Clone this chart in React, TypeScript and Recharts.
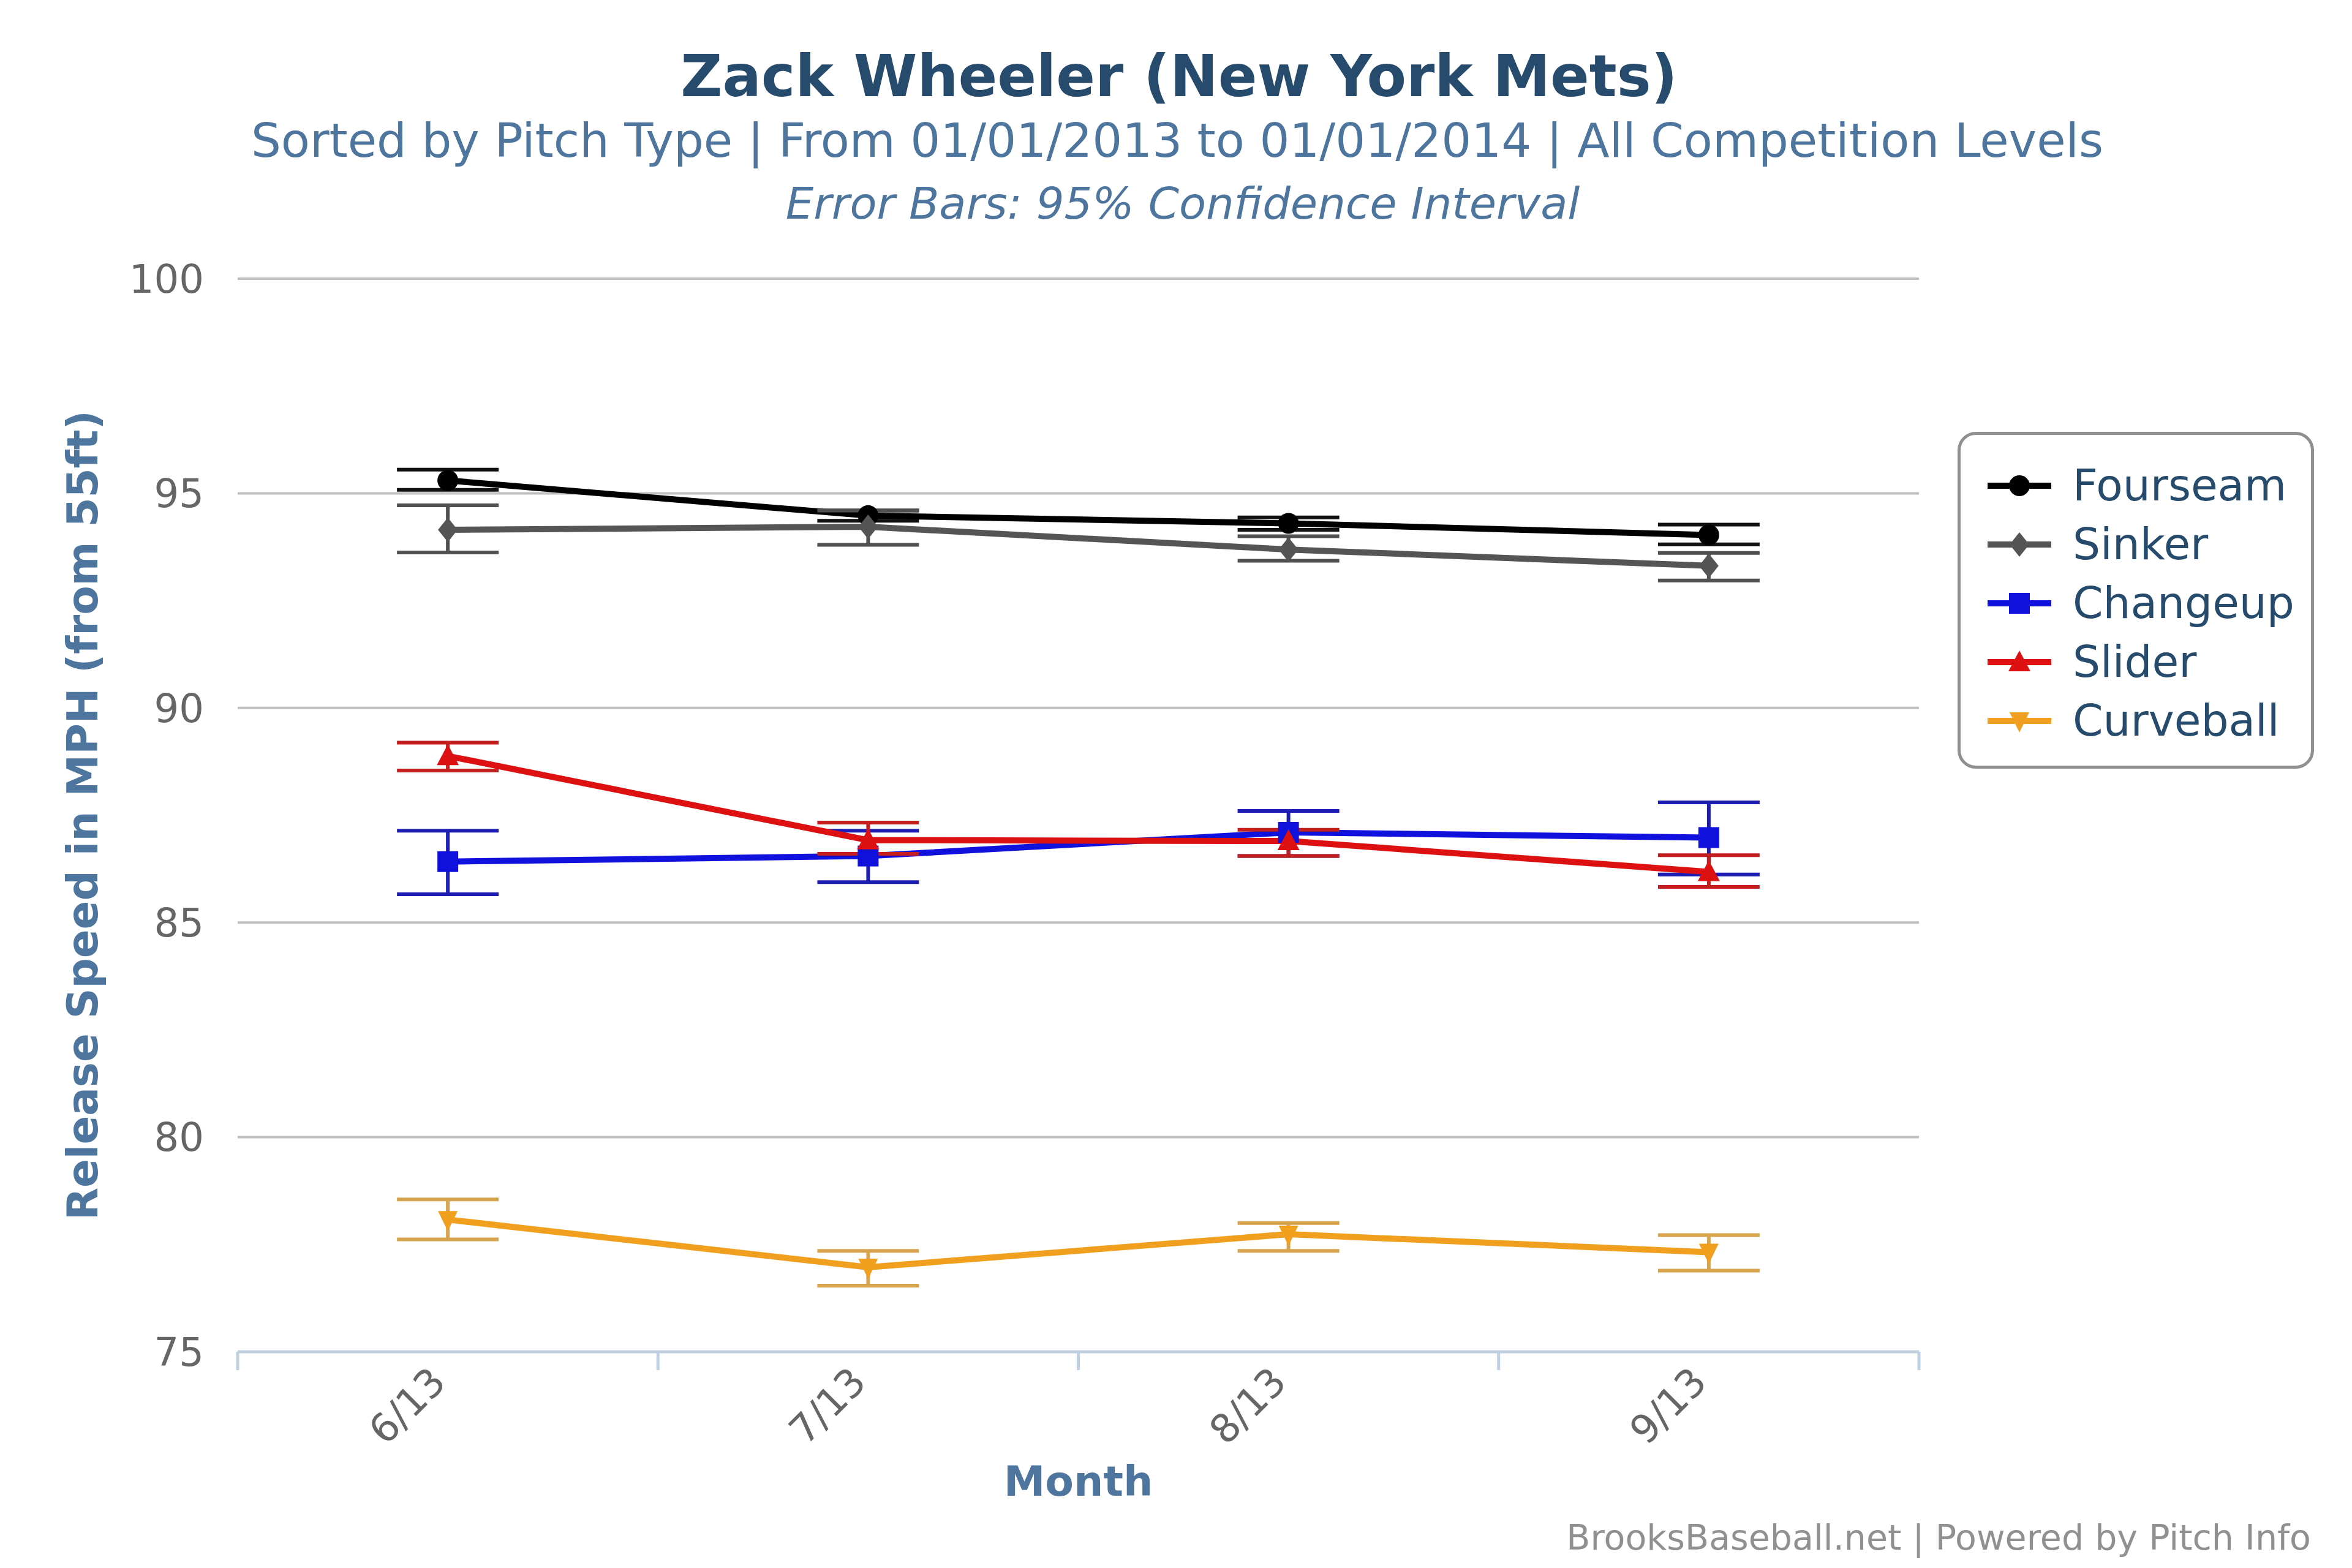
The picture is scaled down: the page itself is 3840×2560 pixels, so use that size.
import React from 'react';
import { LineChart, Line, XAxis, YAxis, CartesianGrid, ErrorBar, Legend } from 'recharts';

const categories = ['6/13', '7/13', '8/13', '9/13'];
const categoryPositions = [0.5, 1.5, 2.5, 3.5];
const xTicks = [0, 0.5, 1, 1.5, 2, 2.5, 3, 3.5, 4];
const yTicks = [75, 80, 85, 90, 95, 100];

const fourseam = [95.3, 94.48, 94.3, 94.03];
const fourseamLow = [95.08, 94.36, 94.15, 93.81];
const fourseamHigh = [95.55, 94.6, 94.44, 94.27];

const sinker = [94.15, 94.22, 93.69, 93.31];
const sinkerLow = [93.62, 93.8, 93.43, 92.97];
const sinkerHigh = [94.72, 94.6, 94.0, 93.61];

const changeup = [86.42, 86.55, 87.1, 86.98];
const changeupLow = [85.66, 85.94, 86.55, 86.12];
const changeupHigh = [87.14, 87.14, 87.6, 87.8];

const slider = [88.88, 86.92, 86.9, 86.18];
const sliderLow = [88.54, 86.6, 86.55, 85.83];
const sliderHigh = [89.19, 87.33, 87.16, 86.57];

const curveball = [78.08, 76.97, 77.74, 77.32];
const curveballLow = [77.62, 76.54, 77.35, 76.89];
const curveballHigh = [78.55, 77.35, 78.0, 77.72];

const FONT = '"DejaVu Sans", Verdana, sans-serif';

const seriesDefs = [
  { key: 'fourseam', name: 'Fourseam', values: fourseam, low: fourseamLow, high: fourseamHigh, color: '#000000', errColor: '#111111', shape: 'circle' },
  { key: 'sinker', name: 'Sinker', values: sinker, low: sinkerLow, high: sinkerHigh, color: '#555555', errColor: '#505050', shape: 'diamond' },
  { key: 'changeup', name: 'Changeup', values: changeup, low: changeupLow, high: changeupHigh, color: '#1111dd', errColor: '#1e1eb4', shape: 'square' },
  { key: 'slider', name: 'Slider', values: slider, low: sliderLow, high: sliderHigh, color: '#dd1111', errColor: '#c41e1e', shape: 'triangle' },
  { key: 'curveball', name: 'Curveball', values: curveball, low: curveballLow, high: curveballHigh, color: '#f0a01e', errColor: '#d8a44e', shape: 'triangle-down' },
];

const data = categories.map((cat, i) => {
  const row: any = { month: cat, x: categoryPositions[i] };
  seriesDefs.forEach((s) => {
    row[s.key] = s.values[i];
    row[s.key + 'Err'] = [s.values[i] - s.low[i], s.high[i] - s.values[i]];
  });
  return row;
});

function Marker({ cx, cy, shape, color }: any) {
  if (cx == null || cy == null) return null;
  switch (shape) {
    case 'circle':
      return <circle cx={cx} cy={cy} r={17} fill={color} />;
    case 'diamond':
      return <path d={`M${cx},${cy - 20}L${cx + 16},${cy}L${cx},${cy + 20}L${cx - 16},${cy}Z`} fill={color} />;
    case 'square':
      return <rect x={cx - 17} y={cy - 17} width={34} height={34} fill={color} />;
    case 'triangle':
      return <path d={`M${cx},${cy - 19}L${cx + 18},${cy + 15}L${cx - 18},${cy + 15}Z`} fill={color} />;
    case 'triangle-down':
      return <path d={`M${cx},${cy + 19}L${cx + 16},${cy - 14}L${cx - 16},${cy - 14}Z`} fill={color} />;
    default:
      return null;
  }
}

function XTick(props: any) {
  const { x, y, payload } = props;
  const v = payload.value;
  const idx = categoryPositions.indexOf(v);
  if (idx < 0) {
    return <line x1={x} y1={y} x2={x} y2={y + 30} stroke="#c0d0e0" strokeWidth={5} />;
  }
  const ay = y + 53;
  return (
    <text
      x={x}
      y={ay}
      transform={`rotate(-45, ${x}, ${ay})`}
      textAnchor="end"
      fill="#666666"
      fontSize={64}
      fontFamily={FONT}
    >
      {categories[idx]}
    </text>
  );
}

function renderLegend() {
  return (
    <div
      style={{
        boxSizing: 'border-box',
        width: 582,
        height: 550,
        border: '5px solid #909090',
        borderRadius: 30,
        background: '#ffffff',
        paddingTop: 35,
        fontFamily: FONT,
      }}
    >
      {seriesDefs.map((s) => (
        <div key={s.key} style={{ display: 'flex', alignItems: 'center', height: 96 }}>
          <svg width={104} height={48} style={{ marginLeft: 44, display: 'block' }}>
            <line x1={0} y1={24} x2={104} y2={24} stroke={s.color} strokeWidth={10} />
            <Marker cx={52} cy={24} shape={s.shape} color={s.color} />
          </svg>
          <span style={{ marginLeft: 35, fontSize: 71, color: '#274b6d', lineHeight: '96px', whiteSpace: 'nowrap' }}>
            {s.name}
          </span>
        </div>
      ))}
    </div>
  );
}

export default function App() {
  return (
    <div style={{ position: 'absolute', left: 0, top: 0, width: 3840, height: 2560, background: '#ffffff', fontFamily: FONT }}>
      <LineChart
        width={3840}
        height={2560}
        data={data}
        margin={{ top: 455, right: 707, bottom: 0, left: 0 }}
        style={{ fontFamily: FONT }}
      >
        <text x={1925} y={157} textAnchor="middle" fill="#274b6d" fontSize={94} fontWeight="bold" fontFamily={FONT}>
          Zack Wheeler (New York Mets)
        </text>
        <text x={1922} y={256} textAnchor="middle" fill="#4d759e" fontSize={77} fontFamily={FONT}>
          Sorted by Pitch Type | From 01/01/2013 to 01/01/2014 | All Competition Levels
        </text>
        <text x={1931} y={357} textAnchor="middle" fill="#4d759e" fontSize={72} fontStyle="italic" fontFamily={FONT}>
          Error Bars: 95% Confidence Interval
        </text>
        <text x={3773} y={2530} textAnchor="end" fill="#909090" fontSize={57} fontFamily={FONT}>
          BrooksBaseball.net | Powered by Pitch Info
        </text>
        <CartesianGrid vertical={false} stroke="#c0c0c0" strokeWidth={4} />
        <XAxis
          dataKey="x"
          type="number"
          domain={[0, 4]}
          ticks={xTicks}
          interval={0}
          height={353}
          tickLine={false}
          tickSize={0}
          tickMargin={0}
          axisLine={{ stroke: '#c0d0e0', strokeWidth: 5 }}
          tick={(p: any) => <XTick {...p} />}
          label={(p: any) => {
            const vb = p.viewBox || {};
            return (
              <text
                x={vb.x + vb.width / 2}
                y={vb.y + 235}
                textAnchor="middle"
                fill="#4d759e"
                fontSize={68}
                fontWeight="bold"
                fontFamily={FONT}
              >
                Month
              </text>
            );
          }}
        />
        <YAxis
          type="number"
          domain={[75, 100]}
          ticks={yTicks}
          interval={0}
          width={388}
          axisLine={false}
          tickLine={false}
          tickSize={0}
          tickMargin={55}
          tick={{ fill: '#666666', fontSize: 64, fontFamily: FONT }}
          label={(p: any) => {
            const vb = p.viewBox || {};
            const cy = vb.y + vb.height / 2;
            return (
              <text
                x={135}
                y={cy}
                transform={`rotate(-90, 135, ${cy})`}
                textAnchor="middle"
                dominantBaseline="central"
                fill="#4d759e"
                fontSize={69}
                fontWeight="bold"
                fontFamily={FONT}
              >
                Release Speed in MPH (from 55ft)
              </text>
            );
          }}
        />
        {seriesDefs.map((s) => (
          <Line
            key={s.key}
            dataKey={s.key}
            name={s.name}
            stroke={s.color}
            strokeWidth={10}
            isAnimationActive={false}
            activeDot={false}
            dot={(p: any) => <Marker key={`${s.key}-${p.index}`} cx={p.cx} cy={p.cy} shape={s.shape} color={s.color} />}
          >
            <ErrorBar dataKey={s.key + 'Err'} direction="y" width={83} strokeWidth={6} stroke={s.errColor} isAnimationActive={false} />
          </Line>
        ))}
        <Legend
          layout="vertical"
          align="center"
          verticalAlign="middle"
          content={renderLegend}
          wrapperStyle={{ left: 3196, top: 705, width: 582, height: 550, right: 'auto', bottom: 'auto' }}
        />
      </LineChart>
    </div>
  );
}
